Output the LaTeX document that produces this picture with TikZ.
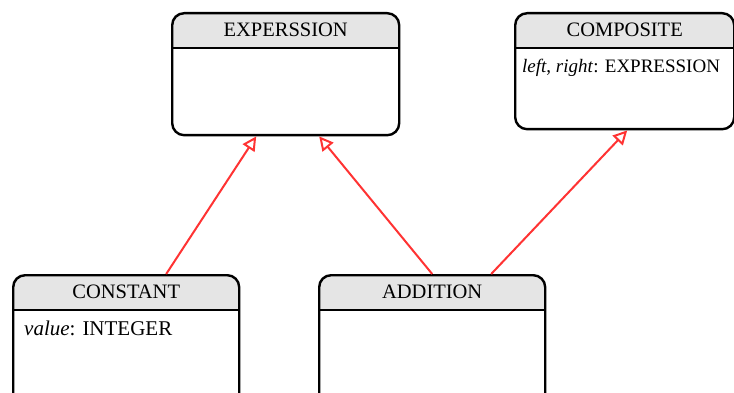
\documentclass[tikz,border=0pt]{standalone}
\usepackage{fontspec}
\setmainfont{Liberation Serif}
\usetikzlibrary{arrows.meta,calc}
\definecolor{hdrgray}{HTML}{E5E5E5}
\definecolor{inhred}{HTML}{FF3333}
\tikzset{
  classframe/.style={draw=black, line width=2.4pt, rounded corners=12pt, inner sep=0pt},
  classtitle/.style={font=\fontsize{20.5}{24}\selectfont, inner sep=0pt},
  classattr/.style={inner sep=0pt, anchor=base west},
  inherits/.style={draw=inhred, line width=2pt,
    -{Triangle[open, length=14pt, width=14pt, line width=2pt]}},
}
% \umlclass{name}{left}{top}{width}{height}{title}{attr indent}{attributes}
\newcommand\umlclass[8]{%
  \begin{scope}
    \clip[rounded corners=12pt] (#2,#3) rectangle ++(#4,#5);
    \fill[hdrgray] (#2,#3) rectangle ++(#4,36);
  \end{scope}
  \node[classframe, minimum width=#4pt, minimum height=#5pt, anchor=north west] (#1) at (#2,#3) {};
  \draw[line width=2.4pt] ($(#1.north west)+(0,36)$) -- ($(#1.north east)+(0,36)$);
  \node[classtitle] (#1-title) at ($(#1.north)+(0,18)$) {#6};
  \node[classattr] (#1-attr) at ($(#1.north west)+(#7,61)$) {#8};
}
\begin{document}
\begin{tikzpicture}[x=1pt, y=-1pt]
  \useasboundingbox (0,0) rectangle (734,393);
  \clip (0,0) rectangle (734,393);

  \umlclass{expr}{171}{12}{227}{122}{EXPERSSION}{9}{}
  \umlclass{comp}{514}{12}{219}{116}{COMPOSITE}{8}{\fontsize{19}{23}\selectfont\textit{left}, \textit{right}: EXPRESSION}
  \umlclass{const}{12}{274}{226}{132}{CONSTANT}{12}{\fontsize{21}{25}\selectfont\textit{value}: INTEGER}
  \umlclass{add}{318}{274}{226}{132}{ADDITION}{9}{}

  % generalisation arrows
  \coordinate (const-up) at ($(const.north)+(40,0)$);
  \coordinate (add-up1) at ($(add.north)+(0,0)$);
  \coordinate (add-up2) at ($(add.north)+(59,0)$);
  \coordinate (expr-in1) at ($(expr.south)+(-29.5,0)$);
  \coordinate (expr-in2) at ($(expr.south)+(33.5,0)$);
  \coordinate (comp-in) at ($(comp.south)+(2.5,0)$);
  \draw[inherits] (const-up) -- (expr-in1);
  \draw[inherits] (add-up1) -- (expr-in2);
  \draw[inherits] (add-up2) -- (comp-in);
\end{tikzpicture}
\end{document}
